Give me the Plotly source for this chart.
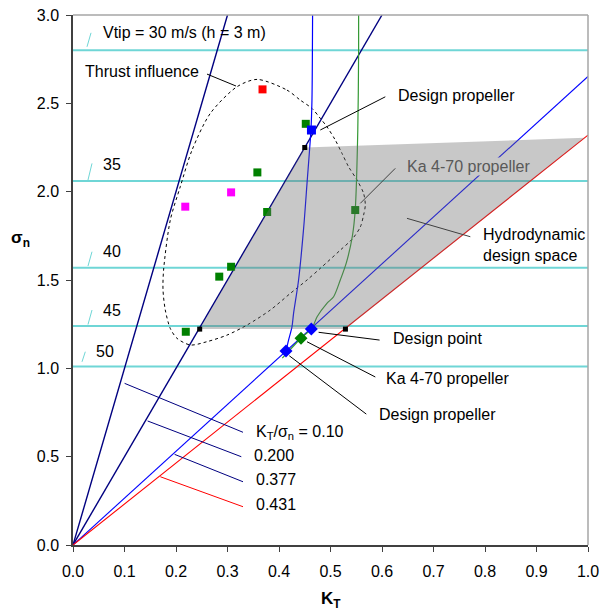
import plotly.graph_objects as go

# ---------------- data ----------------
ratio_values = [0.10, 0.200, 0.377, 0.431]
ratio_labels = ["K<sub>T</sub>/σ<sub>n</sub> = 0.10", "0.200", "0.377", "0.431"]
ratio_colors = ["#000080", "#000080", "#0000FF", "#FF0000"]
ratio_widths = [1.4, 1.4, 1.1, 1.1]

vtip_sigma = [2.80, 2.06, 1.57, 1.24, 1.01]
vtip_labels = ["Vtip = 30 m/s (h = 3 m)", "35", "40", "45", "50"]

design_curve_kt = [0.4652, 0.464, 0.462, 0.4544, 0.4478, 0.438, 0.4283, 0.4252, 0.4186, 0.4136]
design_curve_sn = [3.00, 2.518, 2.349, 2.047, 1.792, 1.500, 1.311, 1.235, 1.160, 1.098]

ka_curve_kt = [0.5546, 0.5546, 0.553, 0.548, 0.5425, 0.531, 0.519, 0.506, 0.493, 0.474, 0.4641, 0.4427, 0.4064]
ka_curve_sn = [3.00, 2.80, 2.35, 1.896, 1.749, 1.600, 1.500, 1.405, 1.368, 1.292, 1.228, 1.170, 1.058]

thrust_kt = [0.3573, 0.4155, 0.4414, 0.4641, 0.4802, 0.4932, 0.5093, 0.5223, 0.5351, 0.5515, 0.5643,
             0.5676, 0.5643, 0.5579, 0.5423, 0.5190, 0.4802, 0.4544, 0.4219, 0.3831, 0.3379, 0.2990,
             0.2602, 0.2278, 0.2019, 0.1889, 0.1792, 0.1748, 0.1759, 0.1889, 0.2083, 0.2311, 0.2666,
             0.3184, 0.3573]
thrust_sn = [2.6355, 2.575, 2.518, 2.471, 2.415, 2.367, 2.292, 2.217, 2.141, 2.066, 1.990,
             1.924, 1.868, 1.800, 1.732, 1.669, 1.566, 1.500, 1.424, 1.330, 1.245, 1.188,
             1.151, 1.132, 1.170, 1.226, 1.330, 1.443, 1.556, 1.839, 2.028, 2.235, 2.443,
             2.594, 2.6355]

space_kt = [0.246, 0.450, 0.994, 0.529]
space_sn = [1.222, 2.250, 2.305, 1.222]

green_kt = [0.452, 0.358, 0.377, 0.307, 0.284, 0.219, 0.548]
green_sn = [2.384, 2.109, 1.885, 1.575, 1.519, 1.207, 1.896]
magenta_kt = [0.307, 0.218]
magenta_sn = [1.996, 1.915]
red_kt = [0.368]
red_sn = [2.579]

corner_kt = [0.246, 0.450, 0.529]
corner_sn = [1.222, 2.250, 1.222]

design_prop_kt = [0.463]
design_prop_sn = [2.349]
design_pts_kt = [0.4627, 0.4136]
design_pts_sn = [1.222, 1.098]
ka_point_kt = [0.4427]
ka_point_sn = [1.170]

FONT = "Liberation Sans, Arial, sans-serif"
CYAN = "#6FD6D6"
FS = 16

fig = go.Figure()

# Vtip (cavitation number) levels
for s in vtip_sigma:
    fig.add_trace(go.Scatter(x=[0, 1], y=[s, s], mode="lines",
                             line=dict(color=CYAN, width=2), hoverinfo="skip"))

# K_T / sigma_n ratio lines through origin
for r, c, w in zip(ratio_values, ratio_colors, ratio_widths):
    k_end = min(1.0, 3.0 * r)
    fig.add_trace(go.Scatter(x=[0, k_end], y=[0, k_end / r], mode="lines",
                             line=dict(color=c, width=w), hoverinfo="skip"))

# thrust influence
fig.add_trace(go.Scatter(x=thrust_kt, y=thrust_sn, mode="lines",
                         line=dict(color="black", width=1, dash="3px,3px", shape="spline", smoothing=0.8)))

# design propeller curve
fig.add_trace(go.Scatter(x=design_curve_kt, y=design_curve_sn, mode="lines",
                         line=dict(color="#0000FF", width=1.2, shape="spline", smoothing=0.8)))
# Ka 4-70 curve
fig.add_trace(go.Scatter(x=ka_curve_kt, y=ka_curve_sn, mode="lines",
                         line=dict(color="#339933", width=1.2, shape="spline", smoothing=0.8)))

# scatter squares
fig.add_trace(go.Scatter(x=green_kt, y=green_sn, mode="markers",
                         marker=dict(symbol="square", size=8, color="#008000")))
fig.add_trace(go.Scatter(x=magenta_kt, y=magenta_sn, mode="markers",
                         marker=dict(symbol="square", size=8, color="#FF00FF")))
fig.add_trace(go.Scatter(x=red_kt, y=red_sn, mode="markers",
                         marker=dict(symbol="square", size=8, color="#FF0000")))

# hydrodynamic design space (translucent overlay)
fig.add_trace(go.Scatter(x=space_kt, y=space_sn, mode="lines", fill="toself",
                         fillcolor="rgba(110,110,110,0.38)", line=dict(width=0)))

fig.add_trace(go.Scatter(x=corner_kt, y=corner_sn, mode="markers",
                         marker=dict(symbol="square", size=5, color="black")))
fig.add_trace(go.Scatter(x=design_prop_kt, y=design_prop_sn, mode="markers",
                         marker=dict(symbol="square", size=9, color="#0000FF")))
fig.add_trace(go.Scatter(x=design_pts_kt, y=design_pts_sn, mode="markers",
                         marker=dict(symbol="diamond", size=10, color="#0000FF")))
fig.add_trace(go.Scatter(x=ka_point_kt, y=ka_point_sn, mode="markers",
                         marker=dict(symbol="diamond", size=10, color="#008000")))

shapes = []
def seg(x0, y0, x1, y1, color="black", width=1):
    shapes.append(dict(type="line", xref="x", yref="y", x0=x0, y0=y0, x1=x1, y1=y1,
                       line=dict(color=color, width=width), layer="above"))

# cyan slashes beside Vtip labels
seg(0.0272, 2.82, 0.035, 2.899, CYAN)
seg(0.0291, 2.066, 0.0369, 2.160, CYAN)
seg(0.0291, 1.579, 0.0369, 1.66, CYAN)
seg(0.0291, 1.248, 0.0369, 1.33, CYAN)
seg(0.0175, 1.037, 0.0239, 1.094, CYAN)

# leaders
seg(0.2602, 2.6655, 0.3165, 2.598)
seg(0.4802, 2.349, 0.6064, 2.537)
seg(0.6258, 2.132, 0.5579, 1.934, "#404040")
seg(0.6485, 1.849, 0.7715, 1.745, "#404040")
seg(0.4769, 1.204, 0.5953, 1.160)
seg(0.4544, 1.1505, 0.587, 0.951)
seg(0.420, 1.071, 0.5695, 0.741)

# ratio label leaders
seg(0.1002, 0.915, 0.3301, 0.638, "#000080")
seg(0.1449, 0.702, 0.3268, 0.4997, "#000080")
seg(0.1973, 0.513, 0.3301, 0.358, "#000080")
seg(0.1695, 0.3865, 0.3301, 0.2167, "#FF0000")

# frame top/right
shapes.append(dict(type="line", xref="paper", yref="paper", x0=0, y0=1, x1=1, y1=1,
                   line=dict(color="#A6A6A6", width=1.5)))
shapes.append(dict(type="line", xref="paper", yref="paper", x0=1, y0=0, x1=1, y1=1,
                   line=dict(color="#A6A6A6", width=1.5)))

ann = []
def txt(x, y, s, color="black", **kw):
    d = dict(x=x, y=y, xref="x", yref="y", text=s, showarrow=False, xanchor="left",
             yanchor="middle", font=dict(family=FONT, size=FS, color=color))
    d.update(kw)
    ann.append(d)

vtip_pos = [(0.0544, 2.903), (0.0544, 2.151), (0.0544, 1.66), (0.0544, 1.33), (0.040, 1.098)]
for (x, y), s in zip(vtip_pos, vtip_labels):
    txt(x, y, s)

txt(0.0194, 2.679, "Thrust influence")
txt(0.627, 2.547, "Design propeller")
txt(0.647, 2.141, "Ka 4-70 propeller", color="#595959", bgcolor="#C8C8C8", borderpad=0)
txt(0.793, 1.698, "Hydrodynamic<br>design space", align="left")
txt(0.618, 1.171, "Design point")
txt(0.6045, 0.945, "Ka 4-70 propeller")
txt(0.591, 0.736, "Design propeller")

ratio_label_pos = [(0.3507, 0.638), (0.3476, 0.509), (0.3507, 0.372), (0.3507, 0.228)]
for (x, y), s in zip(ratio_label_pos, ratio_labels):
    txt(x, y, s)

# axis titles
ann.append(dict(x=-0.101, y=0.578, xref="paper", yref="paper", text="<b>σ<sub>n</sub></b>",
                showarrow=False, xanchor="center", yanchor="middle",
                font=dict(family=FONT, size=17, color="black")))
ann.append(dict(x=0.5, y=-0.103, xref="paper", yref="paper", text="<b>K<sub>T</sub></b>",
                showarrow=False, xanchor="center", yanchor="middle",
                font=dict(family=FONT, size=17, color="black")))

axis_common = dict(showgrid=False, zeroline=False, showline=True, linecolor="#404040",
                   linewidth=1.5, ticks="outside", ticklen=5, tickcolor="#404040",
                   tickwidth=1, tickformat=".1f",
                   tickfont=dict(family=FONT, size=FS, color="black"))

fig.update_layout(
    width=608, height=610,
    margin=dict(l=73, r=20, t=15, b=65, autoexpand=False),
    plot_bgcolor="white", paper_bgcolor="white",
    showlegend=False,
    hovermode=False,
    xaxis=dict(range=[0, 1], dtick=0.1, ticklabelstandoff=6, automargin=False, **axis_common),
    yaxis=dict(range=[0, 3], dtick=0.5, ticklabelstandoff=4, automargin=False, **axis_common),
    shapes=shapes, annotations=ann,
    font=dict(family=FONT),
)

fig.write_html("out.html", config={"displayModeBar": False},
               post_script="document.body.style.margin='0';document.body.style.padding='0';")
